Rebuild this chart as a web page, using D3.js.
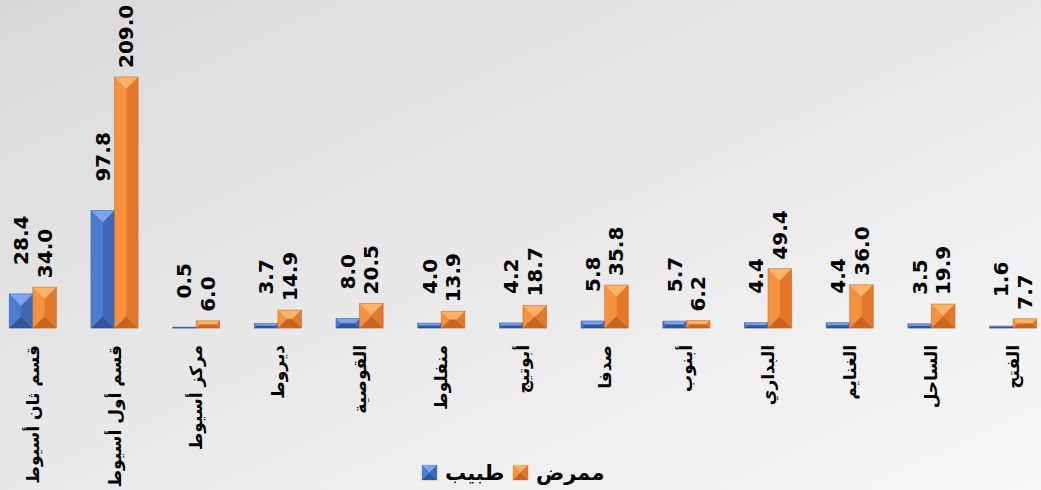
<!DOCTYPE html>
<html>
<head>
<meta charset="utf-8">
<script src="https://cdn.jsdelivr.net/npm/d3@7"></script>
<style>
  html, body { margin: 0; padding: 0; }
  body { width: 1041px; height: 490px; overflow: hidden; }
  text { font-family: "DejaVu Sans", sans-serif; font-weight: bold; fill: #000; }
</style>
</head>
<body>
<div id="chart"></div>
<script>
// data
const categories = ['قسم ثان أسيوط', 'قسم أول أسيوط', 'مركز أسيوط', 'ديروط', 'القوصية', 'منفلوط',
  'أبوتيج', 'صدفا', 'أبنوب', 'البداري', 'الغنايم', 'الساحل', 'الفتح'];
const doctors = [28.4, 97.8, 0.5, 3.7, 8.0, 4.0, 4.2, 5.8, 5.7, 4.4, 4.4, 3.5, 1.6];
const nurses = [34.0, 209.0, 6.0, 14.9, 20.5, 13.9, 18.7, 35.8, 6.2, 49.4, 36.0, 19.9, 7.7];
const seriesNames = ['طبيب', 'ممرض'];

const width = 1041;
const height = 490;
const baseY = 328;
const topY = 77;

// colours for the pyramid bevel: top, left, right, bottom
const faces = {
  'طبيب': ['#7aa4ee', '#4a7cd2', '#3d68b8', '#2f559b'],
  'ممرض': ['#fbb269', '#f6913e', '#e3782a', '#c9651f']
};
const labelGap = { 'طبيب': 29, 'ممرض': 9 };

const svg = d3.select('#chart').append('svg')
  .attr('width', width)
  .attr('height', height);

const defs = svg.append('defs');
const grad = defs.append('linearGradient')
  .attr('id', 'bg')
  .attr('x1', '0').attr('y1', '0')
  .attr('x2', '1').attr('y2', '1');
grad.append('stop').attr('offset', '0%').attr('stop-color', '#d9d9d9');
grad.append('stop').attr('offset', '100%').attr('stop-color', '#f8f8f8');

svg.append('rect')
  .attr('width', width)
  .attr('height', height)
  .attr('fill', 'url(#bg)');

// scales
const x0 = d3.scaleBand()
  .domain(categories)
  .range([-8, 1054])
  .paddingInner(0.425)
  .paddingOuter(0.2125);

const x1 = d3.scaleBand()
  .domain(seriesNames)
  .range([0, x0.bandwidth()]);

const y = d3.scaleLinear()
  .domain([0, 209])
  .range([baseY, topY]);

const rows = categories.map((c, i) => ({
  cat: c,
  vals: [
    { key: 'طبيب', value: doctors[i] },
    { key: 'ممرض', value: nurses[i] }
  ]
}));

// bevelled bar made of four faces
function bevel(x, yTop, w, h) {
  const d = Math.min(w, h) / 2;
  const xl = x, xr = x + w, yt = yTop, yb = yTop + h;
  const il = xl + d, ir = xr - d, it = yt + d, ib = yb - d;
  return [
    [[xl, yt], [xr, yt], [ir, it], [il, it]],
    [[xl, yt], [il, it], [il, ib], [xl, yb]],
    [[xr, yt], [xr, yb], [ir, ib], [ir, it]],
    [[xl, yb], [il, ib], [ir, ib], [xr, yb]]
  ];
}

const groups = svg.selectAll('.group')
  .data(rows)
  .enter()
  .append('g')
  .attr('class', 'group')
  .attr('transform', d => `translate(${x0(d.cat)},0)`);

const bars = groups.selectAll('.bar')
  .data(d => d.vals)
  .enter()
  .append('g')
  .attr('class', 'bar');

bars.each(function(d) {
  const g = d3.select(this);
  const bx = x1(d.key);
  const bw = x1.bandwidth();
  const by = y(d.value);
  const bh = Math.max(baseY - by, 0.8);
  const polys = bevel(bx, baseY - bh, bw, bh);
  g.selectAll('polygon')
    .data(polys)
    .enter()
    .append('polygon')
    .attr('points', p => p.map(q => q.join(',')).join(' '))
    .attr('fill', (p, i) => faces[d.key][i])
    .attr('stroke', (p, i) => faces[d.key][i])
    .attr('stroke-width', 0.3);
  g.append('rect')
    .attr('x', bx)
    .attr('y', baseY - bh)
    .attr('width', bw)
    .attr('height', bh)
    .attr('fill', 'none')
    .attr('stroke', faces[d.key][3])
    .attr('stroke-opacity', 0.6)
    .attr('stroke-width', 0.8);
});

// value labels
bars.append('text')
  .attr('transform', d => {
    const cx = x1(d.key) + x1.bandwidth() / 2;
    return `translate(${cx},${y(d.value) - labelGap[d.key]}) rotate(-90)`;
  })
  .attr('text-anchor', 'start')
  .attr('dominant-baseline', 'central')
  .style('font-size', '20px')
  .text(d => d.value.toFixed(1));

// category labels
groups.append('text')
  .attr('transform', `translate(${x0.bandwidth() / 2},345) rotate(-90)`)
  .attr('text-anchor', 'end')
  .attr('dominant-baseline', 'central')
  .style('font-size', '17px')
  .text(d => d.cat);

// legend
const legendX = [422, 513];
const legend = svg.selectAll('.legend')
  .data(seriesNames)
  .enter()
  .append('g')
  .attr('class', 'legend')
  .attr('transform', (d, i) => `translate(${legendX[i]},465)`);

legend.each(function(d) {
  const g = d3.select(this);
  bevel(0, 0, 15, 15).forEach((p, i) => {
    g.append('polygon')
      .attr('points', p.map(q => q.join(',')).join(' '))
      .attr('fill', faces[d][i])
      .attr('stroke', faces[d][i])
      .attr('stroke-width', 0.3);
  });
});

legend.append('text')
  .attr('x', 23)
  .attr('y', 8)
  .attr('dominant-baseline', 'central')
  .style('font-size', '21px')
  .text(d => d);
</script>
</body>
</html>
